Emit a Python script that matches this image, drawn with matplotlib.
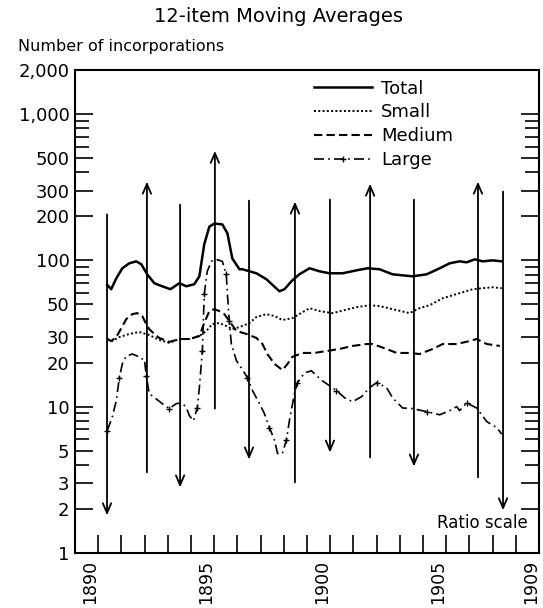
import matplotlib
matplotlib.use("Agg")
import matplotlib.pyplot as plt
from matplotlib.ticker import FixedLocator, FixedFormatter

# 12-item moving averages
total_years = [1891.39, 1891.56, 1891.78, 1892.04, 1892.34, 1892.64, 1892.86, 1893.11,
               1893.42, 1893.76, 1894.11, 1894.50, 1894.80, 1895.14, 1895.36, 1895.57,
               1895.79, 1896.01, 1896.35, 1896.57, 1896.78, 1897.09, 1897.21, 1897.52,
               1897.82, 1898.25, 1898.81, 1899.03, 1899.33, 1899.67, 1900.11, 1900.54,
               1900.97, 1901.53, 1902.14, 1902.61, 1903.13, 1903.69, 1904.12, 1904.55,
               1905.16, 1905.72, 1906.15, 1906.58, 1906.88, 1907.23, 1907.57, 1908.00,
               1908.39]
total = [68, 63.5, 75.4, 88.3, 95.5, 98.5, 94, 80.3,
         69.8, 66.5, 63.5, 69.8, 66.5, 68.7, 77.8, 128.5,
         170, 178.5, 176, 153, 103, 86.9, 87, 84.2,
         81.6, 74.3, 61.5, 63.5, 72, 80.3, 88.3, 84.2,
         81.6, 81.6, 85.5, 88.3, 86.9, 80.3, 79, 77.8,
         80.3, 88.3, 95.5, 98.5, 96.9, 101.6, 98.5, 100,
         98.5]

small_years = [1891.39, 1891.60, 1891.91, 1892.34, 1892.77, 1893.20, 1893.63, 1894.06,
               1894.50, 1894.93, 1895.36, 1895.66, 1895.92, 1896.22, 1896.52, 1896.78,
               1897.09, 1897.52, 1897.82, 1898.25, 1898.60, 1898.94, 1899.37, 1900.11,
               1900.54, 1901.10, 1901.62, 1902.14, 1902.70, 1903.13, 1903.69, 1904.42,
               1904.85, 1905.29, 1905.85, 1906.58, 1907.14, 1907.57, 1908.00, 1908.39]
small = [29.0, 28.1, 29.9, 31.4, 32.4, 30.9, 28.6, 27.3,
         29.0, 29.0, 30.4, 32.9, 36.7, 37.3, 35.6, 33.9,
         35.0, 37.3, 41.0, 42.9, 41.6, 39.1, 40.3, 47.1,
         45.0, 43.6, 45.7, 47.9, 49.4, 48.7, 46.4, 43.6,
         47.1, 49.4, 55.1, 59.7, 63.5, 64.5, 65.5, 64.5]

medium_years = [1891.39, 1891.56, 1891.78, 1892.00, 1892.21, 1892.47, 1892.68, 1892.90,
                1893.07, 1893.20, 1893.42, 1893.63, 1894.06, 1894.50, 1894.93, 1895.36,
                1895.57, 1895.79, 1896.01, 1896.22, 1896.44, 1896.65, 1896.96, 1897.39,
                1897.82, 1898.08, 1898.29, 1898.60, 1898.94, 1899.16, 1899.37, 1899.80,
                1900.32, 1900.84, 1901.40, 1901.96, 1902.57, 1902.83, 1903.43, 1903.86,
                1904.42, 1904.85, 1905.42, 1905.85, 1906.45, 1907.01, 1907.31, 1907.75,
                1908.31]
medium = [29.0, 28.1, 29.9, 34.5, 39.7, 42.9, 43.6, 41.6,
          36.7, 33.9, 31.4, 29.5, 27.7, 29.0, 29.0, 30.4,
          37.3, 45.0, 46.4, 45.0, 42.9, 38.5, 32.9, 31.4,
          29.5, 26.8, 22.9, 19.6, 17.8, 19.6, 21.9, 23.3,
          23.3, 24.0, 24.8, 26.0, 26.8, 26.8, 24.8, 23.3,
          23.3, 22.9, 24.8, 26.8, 26.8, 28.1, 29.0, 26.8,
          26.0]

large_years = [1891.39, 1891.60, 1891.78, 1891.91, 1892.04, 1892.21, 1892.47, 1892.68,
               1892.86, 1892.99, 1893.07, 1893.20, 1893.50, 1893.76, 1894.06, 1894.37,
               1894.63, 1894.80, 1894.93, 1895.10, 1895.27, 1895.36, 1895.49, 1895.57,
               1895.70, 1895.88, 1896.09, 1896.35, 1896.52, 1896.57, 1896.65, 1896.74,
               1896.96, 1897.17, 1897.43, 1897.65, 1897.95, 1898.16, 1898.38, 1898.60,
               1898.73, 1898.94, 1899.11, 1899.24, 1899.46, 1899.59, 1899.89, 1900.19,
               1900.41, 1900.67, 1900.97, 1901.27, 1901.62, 1901.96, 1902.35, 1902.70,
               1903.00, 1903.43, 1903.69, 1904.12, 1904.55, 1905.16, 1905.72, 1906.15,
               1906.45, 1906.58, 1906.88, 1907.31, 1907.75, 1908.18, 1908.39]
large = [6.87, 8.42, 11.0, 15.8, 19.6, 22.2, 22.9, 22.2,
         21.2, 21.2, 16.3, 12.3, 11.3, 10.5, 9.7, 10.5,
         10.6, 9.8, 8.7, 8.0, 9.8, 13.5, 24.0, 58.7,
         84.2, 98.5, 101.6, 98.5, 80.3, 58.7, 38.5, 26.8,
         20.6, 18.4, 15.8, 12.9, 10.5, 9.0, 7.2, 5.9,
         4.79, 4.79, 5.9, 8.0, 12.3, 14.6, 17.0, 17.6,
         16.3, 15.0, 13.9, 12.9, 11.5, 10.8, 11.7, 13.5,
         14.6, 13.5, 11.5, 9.8, 9.7, 9.25, 8.8, 9.4,
         10.0, 9.4, 10.6, 9.8, 7.9, 7.2, 6.5]

# cycle turning points: 1 = arrow up (peak), -1 = arrow down (trough)
arrow_years = [1891.38, 1893.10, 1894.53, 1896.03, 1897.50, 1899.48,
               1900.99, 1902.72, 1904.61, 1907.37, 1908.45]
arrow_dirs = [-1, 1, -1, 1, -1, 1, -1, 1, -1, 1, -1]
arrow_top = [206, 345, 240, 560, 256, 252, 260, 334, 260, 345, 295]
arrow_bottom = [1.81, 3.56, 2.81, 9.7, 4.36, 3.04, 4.86, 4.5, 3.9, 3.29, 1.96]

y_major = [1, 2, 3, 5, 10, 20, 30, 50, 100, 200, 300, 500, 1000, 2000]
y_labels = ["1", "2", "3", "5", "10", "20", "30", "50", "100", "200", "300",
            "500", "1,000", "2,000"]
y_minor = [4, 6, 7, 8, 9, 40, 60, 70, 80, 90, 400, 600, 700, 800, 900]
x_labels = ["1890", "1895", "1900", "1905", "1909"]
x_label_years = [1890, 1895, 1900, 1905, 1909]

plt.rcParams["font.family"] = "DejaVu Sans"

fig = plt.figure(figsize=(5.43, 6.08), dpi=100)
ax = fig.add_axes([75 / 543, 1 - 553 / 608, 464 / 543, 483 / 608])
ax.set_yscale("log")
ax.set_xlim(1890, 1910)
ax.set_ylim(1, 2000)

ax.plot(total_years, total, color="black", lw=1.8, label="Total")
ax.plot(small_years, small, color="black", lw=1.4, ls=(0, (1, 1.2)), label="Small")
ax.plot(medium_years, medium, color="black", lw=1.5, ls=(0, (4, 2)), label="Medium")
ax.plot(large_years, large, color="black", lw=1.2, ls=(0, (6, 2.5, 1, 2.5)),
        marker="+", markersize=5, markeredgewidth=1.0, markevery=0.08, label="Large")

for yr, d, top, bot in zip(arrow_years, arrow_dirs, arrow_top, arrow_bottom):
    tip, tail = (top, bot) if d > 0 else (bot, top)
    ax.annotate("", xy=(yr, tip), xytext=(yr, tail),
                arrowprops=dict(arrowstyle="->,head_length=0.7,head_width=0.3",
                                color="black", lw=1.3, shrinkA=0, shrinkB=0))

ax.yaxis.set_major_locator(FixedLocator(y_major))
ax.yaxis.set_major_formatter(FixedFormatter(y_labels))
ax.yaxis.set_minor_locator(FixedLocator(y_minor))
ax.yaxis.set_minor_formatter(FixedFormatter([""] * len(y_minor)))
ax.tick_params(axis="y", which="both", direction="in", left=True, right=True,
               labelsize=13, width=1.2, pad=4)
ax.tick_params(axis="y", which="major", length=13)
ax.tick_params(axis="y", which="minor", length=10)

# year ticks at every year boundary, labels centred a bit into the year
ax.xaxis.set_minor_locator(FixedLocator(list(range(1891, 1910))))
ax.xaxis.set_major_locator(FixedLocator([y + 0.65 for y in x_label_years]))
ax.xaxis.set_major_formatter(FixedFormatter(x_labels))
ax.tick_params(axis="x", which="minor", direction="in", length=13, width=1.2,
               top=False)
ax.tick_params(axis="x", which="major", length=0, labelsize=12.5, pad=5,
               labelrotation=90, top=False)

for s in ax.spines.values():
    s.set_linewidth(1.5)

ax.legend(loc="upper left", bbox_to_anchor=(0.5, 0.995), frameon=False,
          fontsize=13, handlelength=3.2, handletextpad=0.5,
          labelspacing=0.32, borderaxespad=0)

ax.text(0.975, 0.062, "Ratio scale", transform=ax.transAxes, ha="right",
        va="center", fontsize=12)

fig.text(278 / 543, 1 - 16 / 608, "12-item Moving Averages", ha="center",
         va="center", fontsize=14)
fig.text(18 / 543, 1 - 47 / 608, "Number of incorporations", ha="left",
         va="center", fontsize=11.5)

fig.savefig("out.png", dpi=100)
